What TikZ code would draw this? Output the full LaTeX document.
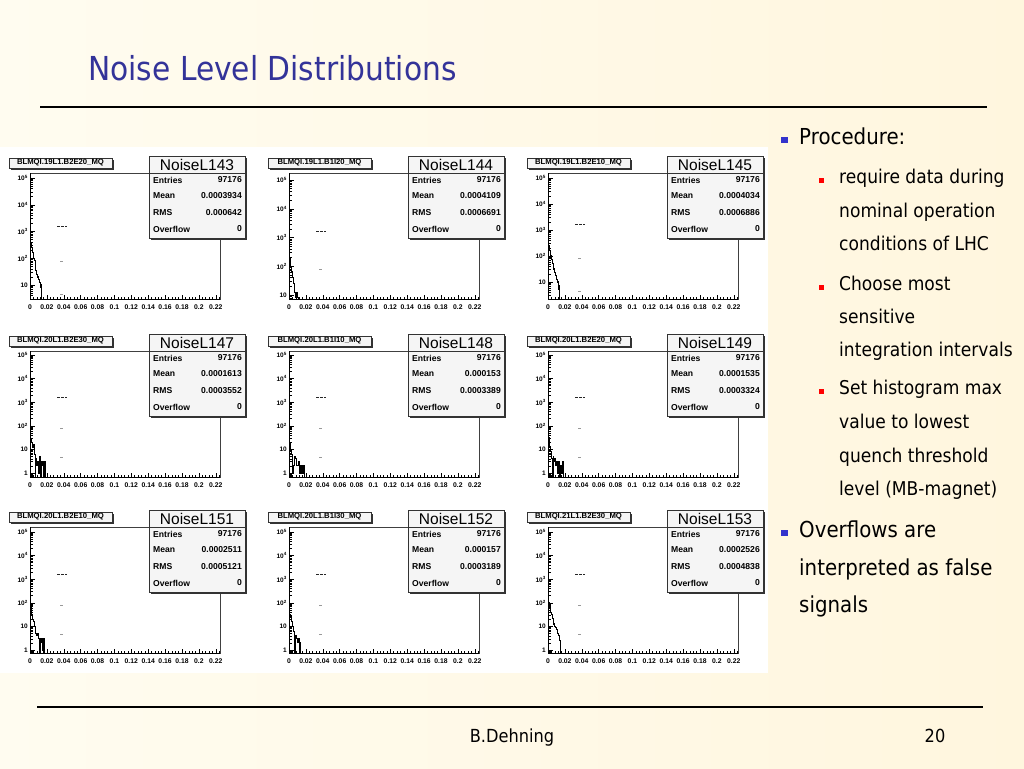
\documentclass[tikz,border=0pt]{standalone}
\usepackage{fontspec}
\setmainfont{DejaVu Sans}[FakeStretch=0.9]
\newfontfamily\rootfont{Liberation Sans}
\usepackage{xcolor}
\usepackage{tikz}

\definecolor{titleblue}{RGB}{51,51,153}
\definecolor{bulletblue}{RGB}{51,51,204}
\definecolor{bulletred}{RGB}{255,0,0}
\definecolor{bgleft}{RGB}{255,252,240}
\definecolor{bgright}{RGB}{255,246,222}

% one ROOT histogram: #1 origin, #2 log-zero offset, #3 decade, #4 title, #5 name, #6 mean, #7 rms, #8 bins
\newcommand{\noisepanel}[8]{%
\begin{scope}[shift={#1}]
	\fill[white] (30,0) rectangle (220,126);
	\draw[plotframe] (30,0) rectangle (220,126);
	
	\begin{scope}
		\clip (30,0) rectangle (220,126);
		\begin{scope}[shift={(30,#2)}, x=844.44pt, y=#3pt]
			\foreach \k in {-1,...,5} {
				\draw[axistick] (0,\k) -- ++(5pt,0pt);
				\foreach \m in {2,...,9}
					\draw[axistick] (0,{\k+log10(\m)}) -- ++(2.5pt,0pt);
			}
			\draw[histline] plot[const plot] coordinates {#8};
			\draw[levelmark] (0.032,3.2) -- (0.044,3.2);
			\draw[faintmark] (0.036,1.9) -- (0.039,1.9);
			\draw[faintmark] (0.036,0.65) -- (0.039,0.65);
		\end{scope}
	\end{scope}
	
	\draw[axisline] (30,0) -- (30,126) -- (220,126);
	\foreach \i in {0,...,56}
		\draw[axistick] ({30+\i*3.378},126) -- ++(0,-2);
	\foreach \lab [count=\i from 0] in {0,0.02,0.04,0.06,0.08,0.1,0.12,0.14,0.16,0.18,0.2,0.22} {
		\draw[axistick] ({30+\i*16.889},126) -- ++(0,-4);
		\node[ticklabel] at ({30+\i*16.889},134) {\lab};
	}
	\foreach \k in {0,...,5} {
		\pgfmathtruncatemacro\vis{(#2-\k*#3)<128}
		\ifnum\vis=1
			\node[decadelabel] at (28,{#2-\k*#3}) {\ifcase\k\relax 1\or 10\else 10\textsuperscript{\k}\fi};
		\fi
	}
	
	% title box
	\fill[boxshadow] (11,-13) rectangle (114,-3);
	\draw[histbox] (9,-15) rectangle (112,-5);
	\node[histtitle] (t#5) at (60.5,-10) {#4};
	
	% stats box
	\fill[boxshadow] (151,-15) rectangle (247,67);
	\draw[histbox] (149,-17) rectangle (245,65);
	\draw[histbox] (149,0) -- (245,0);
	\node[statname] (s#5) at (197,-8.5) {#5};
	\foreach \lab/\val/\yy in {Entries/97176/7, Mean/#6/23, RMS/#7/40, Overflow/0/56} {
		\node[statkey] at (153,\yy) {\lab};
		\node[statval] at (242,\yy) {\val};
	}
\end{scope}}

\begin{document}
\begin{tikzpicture}[x=1pt, y=-1pt,
	slidetitle/.style={anchor=base west, inner sep=0pt, text=titleblue, font=\fontsize{33}{36}\selectfont},
	itemtext/.style={anchor=base west, inner sep=0pt, font=\fontsize{22}{24}\selectfont},
	subtext/.style={anchor=base west, inner sep=0pt, font=\fontsize{19}{21}\selectfont},
	footertext/.style={anchor=base, inner sep=0pt, font=\fontsize{18}{20}\selectfont},
	rulerline/.style={line width=2pt},
	plotframe/.style={black!75, line width=0.6pt},
	axisline/.style={black, line width=0.9pt},
	axistick/.style={black, line width=0.5pt},
	histline/.style={black, line width=1.1pt},
	levelmark/.style={black!85, line width=0.8pt, dash pattern=on 2.5pt off 1.5pt},
	faintmark/.style={black!40, line width=0.6pt},
	histbox/.style={draw=black!80, fill=black!4, line width=0.6pt},
	boxshadow/.style={fill=black!80},
	histtitle/.style={inner sep=0pt, font=\rootfont\bfseries\fontsize{7.7}{8}\selectfont},
	statname/.style={inner sep=0pt, font=\rootfont\fontsize{15.5}{16}\selectfont},
	statkey/.style={anchor=west, inner sep=0pt, font=\rootfont\bfseries\fontsize{8.6}{9}\selectfont},
	statval/.style={anchor=east, inner sep=0pt, font=\rootfont\bfseries\fontsize{8.6}{9}\selectfont},
	ticklabel/.style={inner sep=0pt, font=\rootfont\bfseries\fontsize{6.8}{7}\selectfont},
	decadelabel/.style={anchor=east, inner sep=0pt, font=\rootfont\bfseries\fontsize{6.5}{7}\selectfont}]
	
	\useasboundingbox (0,0) rectangle (1024,768);
	\shade[left color=bgleft, right color=bgright] (0,0) rectangle (1024,768);
	
	% header
	\node[slidetitle] (title) at (88,80) {Noise Level Distributions};
	\draw[rulerline] (40,107) -- (987,107);
	
	% histogram sheet
	\fill[white] (0,147) rectangle (768,673);
	
	\noisepanel{(0,173)}{138.75}{26.75}{BLMQI.19L1.B2E20\_MQ}{NoiseL143}{0.0003934}{0.000642}
		{(0,-1) (0,5.0) (0.001,2.6) (0.002,2.4) (0.003,2.2) (0.004,2.0) (0.005,1.9) (0.006,1.7) (0.007,1.55) (0.008,1.4) (0.009,1.3) (0.010,1.2) (0.011,1.1) (0.012,1.0) (0.013,0.9) (0.014,-1)}
	\noisepanel{(259,173)}{150.75}{28.75}{BLMQI.19L1.B1I20\_MQ}{NoiseL144}{0.0004109}{0.0006691}
		{(0,-1) (0,4.15) (0.001,2.3) (0.002,2.0) (0.003,1.8) (0.004,1.6) (0.005,1.4) (0.006,1.25) (0.007,1.1) (0.008,0.9) (0.009,1.1) (0.010,0.9) (0.011,-1)}
	\noisepanel{(518,173)}{135}{26}{BLMQI.19L1.B2E10\_MQ}{NoiseL145}{0.0004034}{0.0006886}
		{(0,-1) (0,5.0) (0.001,2.4) (0.002,2.2) (0.003,2.0) (0.004,1.85) (0.005,1.7) (0.006,1.6) (0.007,1.5) (0.008,1.35) (0.009,1.25) (0.010,1.1) (0.011,1.0) (0.012,0.85) (0.013,0.7) (0.014,-1)}
	
	\noisepanel{(0,351)}{122}{23.6}{BLMQI.20L1.B2E30\_MQ}{NoiseL147}{0.0001613}{0.0003552}
		{(0,-1) (0,5.1) (0.001,1.4) (0.002,1.3) (0.003,1.1) (0.004,1.2) (0.005,0.8) (0.006,-1) (0.007,0.6) (0.008,0.3) (0.009,0.5) (0.010,0) (0.011,0.7) (0.012,0.5) (0.013,-1) (0.014,0.3) (0.015,0.5) (0.016,-1) (0.017,0.5) (0.018,-1)}
	\noisepanel{(259,351)}{122}{23.6}{BLMQI.20L1.B1I10\_MQ}{NoiseL148}{0.000153}{0.0003389}
		{(0,-1) (0,5.0) (0.001,1.3) (0.002,1.0) (0.003,0.8) (0.004,0) (0.005,0.3) (0.006,0.5) (0.007,0.7) (0.008,0.6) (0.009,0.3) (0.010,0.3) (0.011,0.5) (0.012,0.3) (0.013,0) (0.015,0.3) (0.016,0) (0.017,0.3) (0.018,-1)}
	\noisepanel{(518,351)}{122}{23.6}{BLMQI.20L1.B2E20\_MQ}{NoiseL149}{0.0001535}{0.0003324}
		{(0,-1) (0,5.0) (0.001,1.5) (0.002,1.1) (0.003,0.9) (0.004,0.6) (0.005,-1) (0.006,0.7) (0.007,0.5) (0.008,0.6) (0.009,0.3) (0.010,0.5) (0.011,0) (0.012,0.3) (0.013,0.5) (0.014,-1) (0.015,0.3) (0.016,0) (0.017,0.5) (0.018,-1)}
	
	\noisepanel{(0,527)}{123}{23.6}{BLMQI.20L1.B2E10\_MQ}{NoiseL151}{0.0002511}{0.0005121}
		{(0,-1) (0,5.1) (0.001,1.8) (0.002,1.5) (0.003,1.3) (0.004,1.2) (0.005,1.0) (0.006,0.9) (0.007,0.7) (0.008,0.6) (0.009,0.7) (0.010,0.5) (0.011,-1) (0.012,0.5) (0.013,0.3) (0.014,0.5) (0.015,0) (0.016,0.5) (0.017,-1)}
	\noisepanel{(259,527)}{123}{23.6}{BLMQI.20L1.B1I30\_MQ}{NoiseL152}{0.000157}{0.0003189}
		{(0,-1) (0,5.1) (0.001,1.5) (0.002,1.4) (0.003,1.2) (0.004,1.0) (0.005,0.8) (0.006,0.6) (0.007,-1) (0.008,0.6) (0.009,0.5) (0.010,0.3) (0.011,0.5) (0.012,0) (0.013,0.3) (0.014,-1)}
	\noisepanel{(518,527)}{123}{23.6}{BLMQI.21L1.B2E30\_MQ}{NoiseL153}{0.0002526}{0.0004838}
		{(0,-1) (0,5.1) (0.001,2.0) (0.002,1.8) (0.003,1.6) (0.004,1.5) (0.005,1.35) (0.006,1.2) (0.007,1.1) (0.008,1.0) (0.009,0.95) (0.010,0.85) (0.011,0.7) (0.012,0.6) (0.013,0.6) (0.014,0.4) (0.015,-1)}
	
	% bullet list
	\fill[bulletblue] (781,137) rectangle (788,143);
	\node[itemtext] (proc) at (799,144) {Procedure:};
	\foreach \yy in {178,285,389}
		\fill[bulletred] (819,\yy) rectangle (824,\yy+5);
	\foreach \txt/\yy in {require data during/183, nominal operation/217, conditions of LHC/250,
		Choose most/290, sensitive/323, integration intervals/356,
		Set histogram max/394, value to lowest/428, quench threshold/462, level (MB-magnet)/495}
		\node[subtext] at (839,\yy) {\txt};
	\fill[bulletblue] (781,530) rectangle (788,536);
	\foreach \txt/\yy in {Overflows are/537, interpreted as false/575, signals/612}
		\node[itemtext] at (799,\yy) {\txt};
	
	% footer
	\draw[rulerline] (37,707) -- (983,707);
	\node[footertext] (author) at (512,742) {B.Dehning};
	\node[footertext] (page) at (935,742) {20};
\end{tikzpicture}
\end{document}
